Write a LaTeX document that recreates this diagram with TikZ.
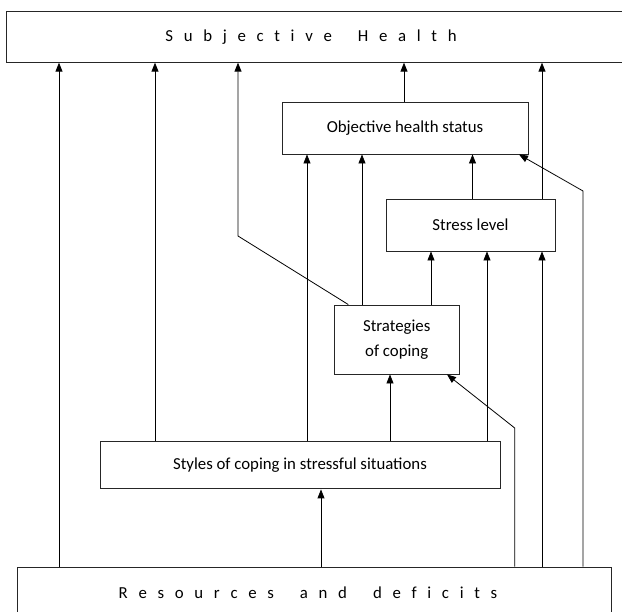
\documentclass[tikz,border=0pt]{standalone}
\usepackage{fontspec}
\setmainfont{Carlito}
\usetikzlibrary{arrows.meta}
\newcommand\Gp{\kern10.7pt}
\newcommand\Wp{\kern26pt}
\begin{document}
\begin{tikzpicture}[x=1pt,y=-1pt,
  box/.style={draw=black!85, line width=0.9pt, rectangle, inner sep=0pt, align=center,
    font=\fontsize{16.8}{24.5}\selectfont},
  arr/.style={draw=black, line width=0.8pt, -{Triangle[width=7pt,length=9pt]}}]
\useasboundingbox (0,0) rectangle (622,612);
% boxes
\node[box, minimum width=624pt, minimum height=51pt] (sub) at (318,36.7)
  {S\Gp u\Gp b\Gp j\Gp e\Gp c\Gp t\Gp i\Gp v\Gp e\Wp H\Gp e\Gp a\Gp l\Gp t\Gp h\kern14pt};
\node[box, minimum width=246pt, minimum height=52pt] (obj) at (405,128) {Objective health status};
\node[box, minimum width=169pt, minimum height=52pt] (str) at (470.5,225) {Stress level};
\node[box, minimum width=124.7pt, minimum height=69pt] (stg) at (396.7,339.5) {Strategies\\of coping};
\node[box, minimum width=400pt, minimum height=47.3pt] (sty) at (300,465.3) {Styles of coping in stressful situations};
\node[box, minimum width=594pt, minimum height=52pt] (res) at (314,593)
  {R\Gp e\Gp s\Gp o\Gp u\Gp r\Gp c\Gp e\Gp s\Wp a\Gp n\Gp d\Wp d\Gp e\Gp f\Gp i\Gp c\Gp i\Gp t\Gp s\kern12pt};
% x positions
\coordinate (cA) at (59,0);
\coordinate (cB) at (155,0);
\coordinate (cD) at (404,0);
\coordinate (cE) at (542,0);
\coordinate (cF) at (307,0);
\coordinate (cG) at (362,0);
\coordinate (cH) at (472.5,0);
\coordinate (cJ) at (431,0);
\coordinate (cK) at (487,0);
\coordinate (cL) at (390,0);
\coordinate (cN) at (321,0);
\coordinate (cI) at (583,0);
\coordinate (cM) at (514.7,0);
\coordinate (p1) at (348.3,0);
\coordinate (b1) at (238,236);
\coordinate (b2) at (583,191);
\coordinate (t2) at (519,0);
\coordinate (b3) at (514.7,428);
\coordinate (t3) at (447,0);
% connectors to Subjective Health
\draw[arr] (cA |- res.north) -- (cA |- sub.south);
\draw[arr] (cB |- sty.north) -- (cB |- sub.south);
\draw[arr] (p1 |- stg.north) -- (b1) -- (b1 |- sub.south);
\draw[arr] (cD |- obj.north) -- (cD |- sub.south);
\draw[arr] (cE |- str.north) -- (cE |- sub.south);
% connectors to Objective health status
\draw[arr] (cF |- sty.north) -- (cF |- obj.south);
\draw[arr] (cG |- stg.north) -- (cG |- obj.south);
\draw[arr] (cH |- str.north) -- (cH |- obj.south);
\draw[arr] (cI |- res.north) -- (b2) -- (t2 |- obj.south);
% connectors to Stress level
\draw[arr] (cJ |- stg.north) -- (cJ |- str.south);
\draw[arr] (cK |- sty.north) -- (cK |- str.south);
\draw[arr] (cE |- res.north) -- (cE |- str.south);
% connectors to Strategies of coping
\draw[arr] (cL |- sty.north) -- (cL |- stg.south);
\draw[arr] (cM |- res.north) -- (b3) -- (t3 |- stg.south);
% connector to Styles
\draw[arr] (cN |- res.north) -- (cN |- sty.south);
\end{tikzpicture}
\end{document}
